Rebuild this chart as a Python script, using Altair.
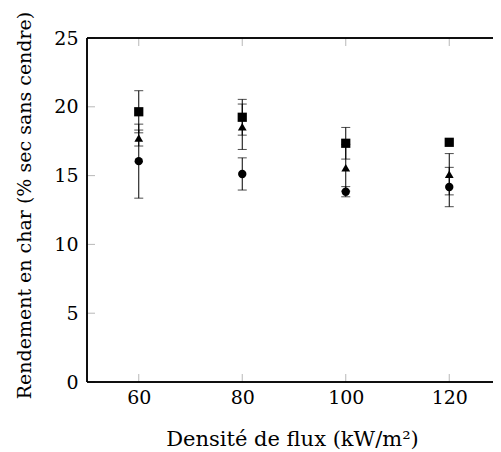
import altair as alt
import pandas as pd

flux = [60, 80, 100, 120]
series = ["carre", "triangle", "cercle"]
shapes = ["square", "triangle-up", "circle"]
sizes = [85, 70, 80]
values = {
    "carre": [19.64, 19.24, 17.35, 17.42],
    "triangle": [17.73, 18.55, 15.57, 15.10],
    "cercle": [16.05, 15.12, 13.83, 14.17],
}
errors = {
    "carre": [1.53, 1.30, 1.15, 0.0],
    "triangle": [0.58, 1.65, 1.70, 1.50],
    "cercle": [2.69, 1.17, 0.37, 1.43],
}
x_ticks = [60, 80, 100, 120]
y_ticks = [0, 5, 10, 15, 20, 25]

rows = []
for s in series:
    for xv, v, e in zip(flux, values[s], errors[s]):
        rows.append({"flux": xv, "serie": s, "val": v, "lo": v - e, "hi": v + e})
df = pd.DataFrame(rows)
df_err = df[df["hi"] > df["lo"]]

W, H = 406, 344      # visible view width (page is clipped at right like the reference)
RW = 414             # full plot-area width used by the x scale
FONT = "DejaVu Serif"

xscale = alt.Scale(domain=[50, 130], range=[0, RW], nice=False, zero=False)
yscale = alt.Scale(domain=[0, 25], nice=False)

x_axis = alt.Axis(values=x_ticks, ticks=False, domain=False, grid=False,
                  labelFont=FONT, labelFontSize=19, labelColor="black", labelPadding=6,
                  title="Densité de flux (kW/m²)", titleFont=FONT, titleFontSize=21,
                  titleFontWeight="normal", titleColor="black",
                  titleX=205, titleY=63, titleBaseline="alphabetic", titleAlign="center")
y_axis = alt.Axis(values=y_ticks, ticks=False, domain=False, grid=False,
                  labelFont=FONT, labelFontSize=19, labelColor="black", labelPadding=9,
                  title="Rendement en char (% sec sans cendre)", titleFont=FONT,
                  titleFontSize=19, titleFontWeight="normal", titleColor="black",
                  titleX=-63, titleY=167, titleBaseline="middle", titleAngle=270,
                  titleAlign="center")

base = alt.Chart(df)

rules = alt.Chart(df_err).mark_rule(color="black", strokeWidth=1).encode(
    x=alt.X("flux:Q", scale=xscale, axis=x_axis),
    y=alt.Y("lo:Q", scale=yscale, axis=y_axis),
    y2="hi:Q",
)
cap_lo = alt.Chart(df_err).mark_tick(color="black", orient="horizontal", size=9, thickness=1).encode(
    x=alt.X("flux:Q", scale=xscale), y=alt.Y("lo:Q", scale=yscale))
cap_hi = alt.Chart(df_err).mark_tick(color="black", orient="horizontal", size=9, thickness=1).encode(
    x=alt.X("flux:Q", scale=xscale), y=alt.Y("hi:Q", scale=yscale))

points = base.mark_point(filled=True, opacity=1, color="black").encode(
    x=alt.X("flux:Q", scale=xscale),
    y=alt.Y("val:Q", scale=yscale),
    shape=alt.Shape("serie:N", scale=alt.Scale(domain=series, range=shapes), legend=None),
    size=alt.Size("serie:N", scale=alt.Scale(domain=series, range=sizes), legend=None),
)

xt = pd.DataFrame({"t": x_ticks})
yt = pd.DataFrame({"t": y_ticks})
TC = "#9a9a9a"
xt_bot = alt.Chart(xt).mark_tick(color=TC, orient="vertical", size=8, thickness=1).encode(
    x=alt.X("t:Q", scale=xscale), y=alt.value(H - 4))
xt_top = alt.Chart(xt).mark_tick(color=TC, orient="vertical", size=8, thickness=1).encode(
    x=alt.X("t:Q", scale=xscale), y=alt.value(4))
yt_left = alt.Chart(yt).mark_tick(color=TC, orient="horizontal", size=8, thickness=1).encode(
    y=alt.Y("t:Q", scale=yscale), x=alt.value(4))
yt_right = alt.Chart(yt).mark_tick(color=TC, orient="horizontal", size=8, thickness=1).encode(
    y=alt.Y("t:Q", scale=yscale), x=alt.value(RW - 4))

# frame (left, top, bottom); the right edge lies beyond the visible page, as in the reference
frame_left = alt.Chart(xt).mark_rule(color="black", strokeWidth=1).encode(
    x=alt.value(0), y=alt.value(0), y2=alt.value(H))
frame_top = alt.Chart(xt).mark_rule(color="black", strokeWidth=1).encode(
    x=alt.value(0), x2=alt.value(RW), y=alt.value(0))
frame_bot = alt.Chart(xt).mark_rule(color="black", strokeWidth=1).encode(
    x=alt.value(0), x2=alt.value(RW), y=alt.value(H))

chart = alt.layer(
    xt_bot, xt_top, yt_left, yt_right, frame_left, frame_top, frame_bot,
    rules, cap_lo, cap_hi, points
).properties(
    width=W, height=H,
    autosize=alt.AutoSizeParams(type="none"),
    padding={"left": 79, "top": 30, "right": 0, "bottom": 68},
    background="white",
).configure_view(stroke=None)

chart.save("out.html", embed_options={"renderer": "svg", "actions": False})
